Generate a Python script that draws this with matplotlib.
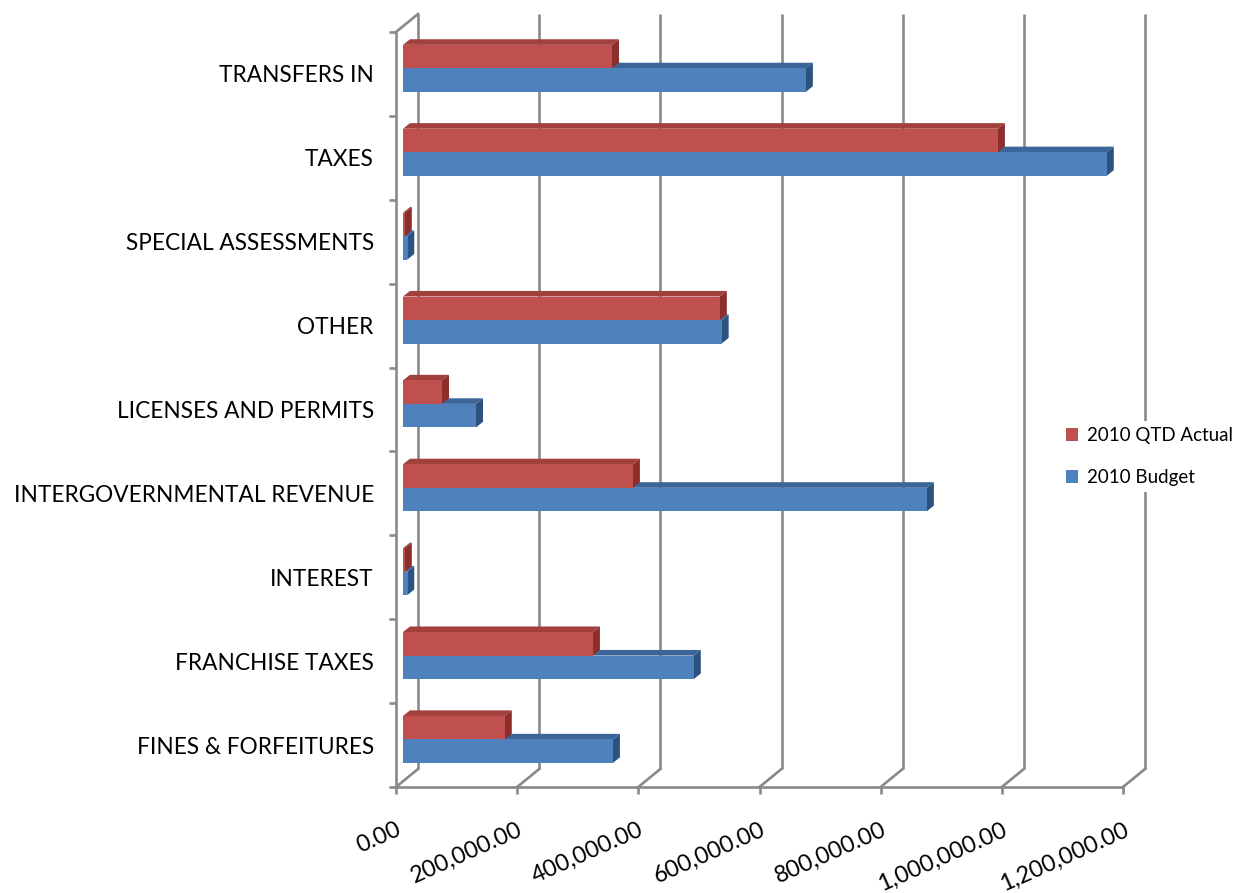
import matplotlib
matplotlib.use("Agg")
import matplotlib.pyplot as plt
from matplotlib.patches import Polygon, Patch
import numpy as np

# ---------------- data ----------------
categories = ["FINES & FORFEITURES", "FRANCHISE TAXES", "INTEREST",
              "INTERGOVERNMENTAL REVENUE", "LICENSES AND PERMITS", "OTHER",
              "SPECIAL ASSESSMENTS", "TAXES", "TRANSFERS IN"]
actual_2010 = [168000, 313500, 3000, 379500, 64400, 523000, 3000, 982000, 345000]
budget_2010 = [346500, 480000, 7000, 864700, 120500, 526000, 7000, 1161700, 665000]
series_names = ["2010 QTD Actual", "2010 Budget"]
xticks = [0, 200000, 400000, 600000, 800000, 1000000, 1200000]
xtick_labels = ["0.00", "200,000.00", "400,000.00", "600,000.00",
                "800,000.00", "1,000,000.00", "1,200,000.00"]

plt.rcParams['font.family'] = ['Lato', 'DejaVu Sans']

W, H, DPI = 1239, 893, 100
fig = plt.figure(figsize=(W / DPI, H / DPI), dpi=DPI)
fig.patch.set_facecolor("white")

L, R, T, B = 396, 1123, 32, 787
ax = fig.add_axes([L / W, (H - B) / H, (R - L) / W, (B - T) / H])
xmax = 1200000
ax.set_xlim(0, xmax)
ax.set_ylim(-0.5, len(categories) - 0.5)

# pixel -> data unit conversion
sx = (R - L) / xmax
sy = (B - T) / len(categories)
def off(px, py):
    return px / sx, py / sy

grid_c = "#898989"
grid_lw = 1.9
DX, DY = off(22, 18)          # depth of the box
d1x, d1y = off(7, 5.6)        # front of bars
d2x, d2y = off(14, 11.2)      # back of bars

y0, y1 = -0.5, len(categories) - 0.5
# back wall gridlines + floor diagonals
for xv in xticks:
    ax.plot([xv + DX, xv + DX], [y0 + DY, y1 + DY], color=grid_c, lw=grid_lw,
            clip_on=False, zorder=1, solid_capstyle='butt')
    ax.plot([xv, xv + DX], [y0, y0 + DY], color=grid_c, lw=grid_lw,
            clip_on=False, zorder=1)
# top-left diagonal of side wall
ax.plot([0, DX], [y1, y1 + DY], color=grid_c, lw=grid_lw, clip_on=False, zorder=1)

# bars
h = 0.28
ypos = np.arange(len(categories))
red_front, red_top, red_side = "#C0504D", "#A2403D", "#8C2F2C"
blue_front, blue_top, blue_side = "#4F81BD", "#3C6699", "#2C5380"

def draw_bar(v, yb, yt, ct, cs, z):
    top = Polygon([(d1x, yt + d1y), (d2x, yt + d2y), (v + d2x, yt + d2y), (v + d1x, yt + d1y)],
                  closed=True, facecolor=ct, edgecolor='none', zorder=z, clip_on=False)
    side = Polygon([(v + d1x, yb + d1y), (v + d2x, yb + d2y), (v + d2x, yt + d2y), (v + d1x, yt + d1y)],
                   closed=True, facecolor=cs, edgecolor='none', zorder=z, clip_on=False)
    ax.add_patch(top)
    ax.add_patch(side)

for i in range(len(categories)):
    draw_bar(budget_2010[i], ypos[i] - h, ypos[i], blue_top, blue_side, 3)
ax.barh(ypos - h / 2 + d1y, budget_2010, height=h, left=d1x, color=blue_front,
        zorder=3.5, clip_on=False)
for i in range(len(categories)):
    draw_bar(actual_2010[i], ypos[i], ypos[i] + h, red_top, red_side, 4)
ax.barh(ypos + h / 2 + d1y, actual_2010, height=h, left=d1x, color=red_front,
        zorder=4.5, clip_on=False)

# axes styling
for s in ["top", "right"]:
    ax.spines[s].set_visible(False)
for s in ["left", "bottom"]:
    ax.spines[s].set_color(grid_c)
    ax.spines[s].set_linewidth(grid_lw)
ax.set_facecolor("none")

ax.set_yticks(ypos)
ax.set_yticklabels(categories, fontsize=16.3)
ax.set_yticks(np.arange(-0.5, len(categories)), minor=True)
ax.tick_params(axis='y', which='major', length=0, pad=16)
ax.tick_params(axis='y', which='minor', length=5, width=grid_lw, color=grid_c)

ax.set_xticks(xticks)
ax.set_xticklabels(xtick_labels, fontsize=16.8, rotation=24, ha='right',
                   rotation_mode='anchor')
ax.tick_params(axis='x', length=5, width=grid_lw, color=grid_c, pad=18)

handles = [Patch(facecolor=red_front), Patch(facecolor=blue_front)]
leg = fig.legend(handles, series_names, loc='upper left',
                 bbox_to_anchor=(1051 / W, 1 - 412 / H), frameon=True,
                 fontsize=13.5, handlelength=0.65, handleheight=0.65,
                 handletextpad=0.45, labelspacing=1.35, borderpad=0.3)
leg.get_frame().set_facecolor("white")
leg.get_frame().set_edgecolor("none")
leg.get_frame().set_alpha(1)

fig.savefig("out.png", dpi=DPI, facecolor="white")
